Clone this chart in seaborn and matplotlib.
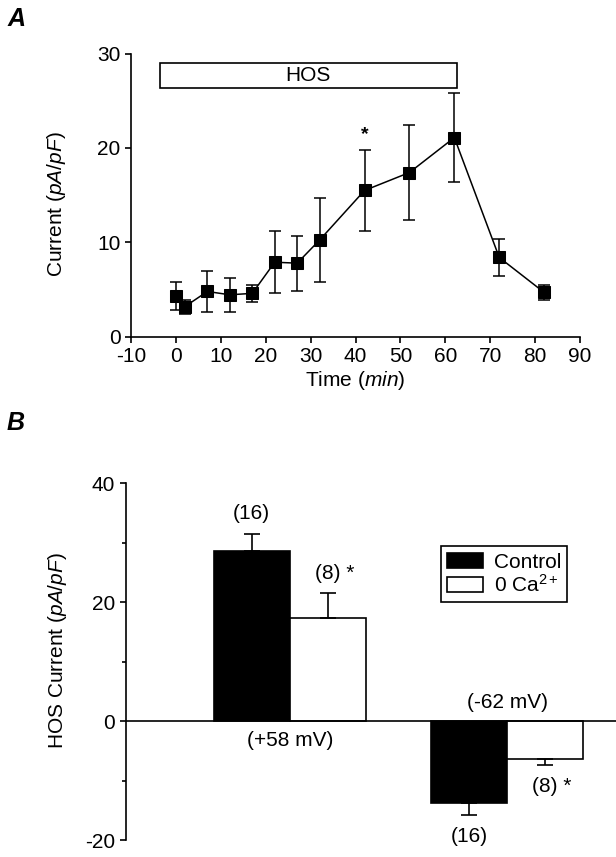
import numpy as np
import pandas as pd
import matplotlib
matplotlib.use('Agg')
import matplotlib.pyplot as plt
import seaborn as sns
from matplotlib.patches import Rectangle

# Painel A: corrente ao longo do tempo (media +- EPM)
tempo_min = [0, 2, 7, 12, 17, 22, 27, 32, 42, 52, 62, 72, 82]
corrente = [4.3, 3.2, 4.8, 4.45, 4.6, 7.9, 7.8, 10.25, 15.5, 17.4, 21.1, 8.4, 4.7]
corrente_epm = [1.5, 0.75, 2.2, 1.8, 0.9, 3.3, 2.9, 4.4, 4.3, 5.0, 4.7, 1.95, 0.77]
hos_inicio, hos_fim = -3.5, 62.5
tempo_signif = [42]

# Painel B: corrente HOS por potencial
potenciais = ['(+58 mV)', '(-62 mV)']
condicoes = ['Control', '0 Ca$^{2+}$']
media_controle = [28.6, -13.7]
media_0ca = [17.4, -6.3]
epm_controle = [2.9, 2.1]
epm_0ca = [4.1, 1.1]
n_controle = ['(16)', '(16)']
n_0ca = ['(8) *', '(8) *']

sns.set_style('ticks')
plt.rcParams['font.family'] = ['Liberation Sans', 'DejaVu Sans']
plt.rcParams['mathtext.fontset'] = 'custom'
plt.rcParams['mathtext.rm'] = 'Liberation Sans'
plt.rcParams['mathtext.it'] = 'Liberation Sans:italic'
plt.rcParams['axes.unicode_minus'] = False
plt.rcParams['font.size'] = 15
plt.rcParams['text.color'] = 'black'
plt.rcParams['axes.labelcolor'] = 'black'
plt.rcParams['axes.linewidth'] = 1.2
plt.rcParams['xtick.major.width'] = 1.2
plt.rcParams['ytick.major.width'] = 1.2
plt.rcParams['ytick.minor.width'] = 1.2
plt.rcParams['xtick.major.size'] = 4
plt.rcParams['ytick.major.size'] = 4
plt.rcParams['ytick.minor.size'] = 3
plt.rcParams['xtick.labelsize'] = 15
plt.rcParams['ytick.labelsize'] = 15
plt.rcParams['xtick.color'] = 'black'
plt.rcParams['ytick.color'] = 'black'
plt.rcParams['axes.edgecolor'] = 'black'

fig = plt.figure(figsize=(6.16, 8.57), dpi=100)

# ---------- Painel A ----------
axA = fig.add_axes([0.2127, 0.607, 0.729, 0.3305])
sns.lineplot(x=tempo_min, y=corrente, marker='s', markersize=8, color='black',
             linewidth=1.1, markeredgecolor='black', errorbar=None, ax=axA)
axA.errorbar(tempo_min, corrente, yerr=corrente_epm, fmt='none', ecolor='black',
             elinewidth=1.1, capsize=4.5, capthick=1.1)
axA.add_patch(Rectangle((hos_inicio, 26.3), hos_fim - hos_inicio, 2.7,
                        facecolor='white', edgecolor='black', linewidth=1.2))
axA.text((hos_inicio + hos_fim) / 2, 27.65, 'HOS', ha='center', va='center', fontsize=15)
for t in tempo_signif:
    i = tempo_min.index(t)
    axA.text(t, corrente[i] + corrente_epm[i] + 1.6, '*', ha='center', va='center',
             fontsize=14, fontweight='bold')
axA.set_xlim(-10, 90)
axA.set_ylim(0, 30)
axA.set_xticks(np.arange(-10, 91, 10))
axA.set_yticks([0, 10, 20, 30])
axA.tick_params(direction='out')
sns.despine(ax=axA)
axA.set_xlabel('Time ($\\mathit{min}$)', fontsize=15, labelpad=2)
axA.set_ylabel('Current ($\\mathit{pA/pF}$)', fontsize=15)
axA.yaxis.set_label_coords(-0.14, 0.47)

# ---------- Painel B ----------
df = pd.DataFrame({
    'potencial': potenciais * 2,
    'condicao': [condicoes[0]] * 2 + [condicoes[1]] * 2,
    'media': media_controle + media_0ca,
    'epm': epm_controle + epm_0ca,
    'n': n_controle + n_0ca,
})

axB = fig.add_axes([0.204, 0.0198, 0.796, 0.4162])
sns.barplot(data=df, x='potencial', y='media', hue='condicao', order=potenciais,
            hue_order=condicoes, palette=['black', 'white'], edgecolor='black',
            linewidth=1.2, width=0.7, errorbar=None, ax=axB)

barras = [p for p in axB.patches][:len(df)]
for p, (_, row) in zip(barras, df.iterrows()):
    xc = p.get_x() + p.get_width() / 2
    m, e = row['media'], row['epm']
    if m >= 0:
        yerr = [[0], [e]]
        ytxt = m + e + 3.4
    else:
        yerr = [[e], [0]]
        ytxt = m - e - 3.6
    axB.errorbar([xc], [m], yerr=yerr, fmt='none', ecolor='black',
                 elinewidth=1.2, capsize=6, capthick=1.2)
    dx = 0.03 if '*' in row['n'] else 0
    axB.text(xc + dx, ytxt, row['n'], ha='center', va='center', fontsize=15)

for i, pot in enumerate(potenciais):
    sinal = np.sign(media_controle[i])
    axB.text(i, -sinal * 3.2, pot, ha='center', va='center', fontsize=15)

axB.axhline(0, color='black', linewidth=1.2)
axB.set_xlim(-0.755, 1.5)
axB.set_ylim(-20, 40)
axB.set_yticks([-20, 0, 20, 40])
axB.set_yticks([-10, 10, 30], minor=True)
axB.set_xticks([])
axB.tick_params(direction='out')
axB.tick_params(axis='y', which='minor', direction='out')
sns.despine(ax=axB, bottom=True)
axB.set_xlabel('')
axB.set_ylabel('HOS Current ($\\mathit{pA/pF}$)', fontsize=15)
axB.yaxis.set_label_coords(-0.116, 0.53)

handles, labels = axB.get_legend_handles_labels()
leg = axB.legend(handles, labels, loc='upper right', bbox_to_anchor=(0.9007, 0.823),
                 frameon=True, fancybox=False, framealpha=1, edgecolor='black',
                 fontsize=15, handlelength=1.75, handleheight=0.7,
                 handletextpad=0.5, borderpad=0.3, labelspacing=0.1,
                 borderaxespad=0)
leg.get_frame().set_linewidth(1.2)

fig.text(0.013, 0.992, 'A', fontsize=18, fontweight='bold', fontstyle='italic',
         ha='left', va='top')
fig.text(0.011, 1 - 411 / 857, 'B', fontsize=18, fontweight='bold', fontstyle='italic',
         ha='left', va='top')

fig.savefig('out.png', dpi=100)
